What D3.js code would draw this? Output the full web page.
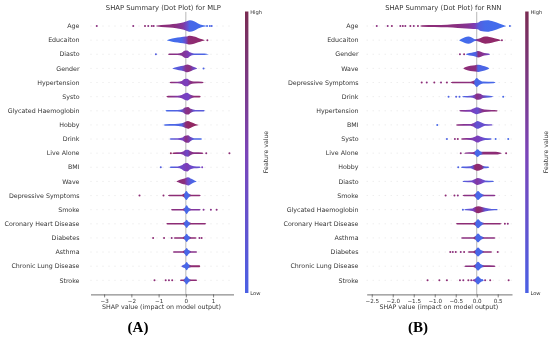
<!DOCTYPE html>
<html>
<head>
<meta charset="utf-8">
<script src="https://cdn.jsdelivr.net/npm/d3@7.9.0/dist/d3.min.js"></script>
<style>
  body { margin: 0; background: #fff; }
  svg { will-change: transform; }
  text { font-family: "DejaVu Sans", sans-serif; }
</style>
</head>
<body>
<svg id="chart" width="550" height="338"></svg>
<script>
// feature order, top to bottom
const mlpFeatures = ["Age", "Educaiton", "Diasto", "Gender", "Hypertension", "Systo",
  "Glycated Haemoglobin", "Hobby", "Drink", "Live Alone", "BMI", "Wave",
  "Depressive Symptoms", "Smoke", "Coronary Heart Disease", "Diabetes", "Asthma",
  "Chronic Lung Disease", "Stroke"];
const rnnFeatures = ["Age", "Educaiton", "Gender", "Wave", "Depressive Symptoms", "Drink",
  "Hypertension", "BMI", "Systo", "Live Alone", "Hobby", "Diasto", "Smoke",
  "Glycated Haemoglobin", "Coronary Heart Disease", "Asthma", "Diabetes",
  "Chronic Lung Disease", "Stroke"];

// swarm density along the SHAP axis: [shap, density]
const mlpShape = [
  [[-1.1,0],[-1.05,0.8],[-0.9,1.5],[-0.6,2.5],[-0.35,3.5],[-0.15,5],[0,7],[0.15,9],[0.3,7.5],[0.45,4],[0.6,1.5],[0.7,0.8],[0.78,0]],
  [[-0.7,0],[-0.6,1.5],[-0.4,3.5],[-0.2,4.5],[0,5.5],[0.15,7],[0.3,5.5],[0.45,3.5],[0.6,1.5],[0.7,0]],
  [[-0.66,0],[-0.6,1.1],[-0.3,1.2],[-0.15,2.5],[-0.05,5.5],[0.05,6],[0.15,3],[0.3,1.2],[0.6,1.1],[0.75,0.8],[0.85,0]],
  [[-0.5,0],[-0.4,1.5],[-0.25,3],[-0.1,4],[0.05,6],[0.15,5],[0.25,3],[0.35,1.2],[0.42,0]],
  [[-0.6,0],[-0.55,1.2],[-0.3,1.3],[-0.15,2.5],[-0.05,5.5],[0.05,6],[0.15,3],[0.3,1.5],[0.6,1.2],[0.66,0]],
  [[-0.72,0],[-0.65,1.2],[-0.3,1.3],[-0.15,2.5],[-0.05,5],[0.05,6],[0.15,3.5],[0.3,1.5],[0.5,1.2],[0.55,0]],
  [[-0.75,0],[-0.7,1.2],[-0.3,1.3],[-0.12,2.5],[-0.03,5],[0.08,6],[0.18,3],[0.35,1.2],[0.65,1.1],[0.7,0]],
  [[-0.82,0],[-0.75,1.2],[-0.4,1.5],[-0.15,2.5],[-0.03,4.5],[0.08,6],[0.2,4],[0.35,1.5],[0.47,0]],
  [[-0.6,0],[-0.55,1.2],[-0.3,1.2],[-0.12,2.5],[-0.03,5],[0.08,6],[0.18,3],[0.3,1.3],[0.55,1.1],[0.6,0]],
  [[-0.5,0],[-0.45,1.2],[-0.2,1.5],[-0.1,2.5],[-0.02,5],[0.08,5.5],[0.18,3],[0.3,1.5],[0.6,1.2],[0.65,0]],
  [[-0.6,0],[-0.55,1.1],[-0.3,1.3],[-0.15,3],[-0.05,6],[0.05,6.5],[0.15,3.5],[0.3,1.5],[0.5,1.1],[0.55,0]],
  [[-0.35,0],[-0.28,1.5],[-0.15,3.5],[-0.02,5],[0.08,6.5],[0.2,4],[0.32,1.5],[0.4,0]],
  [[-0.66,0],[-0.6,1.2],[-0.15,1.2],[-0.06,3],[0.02,7],[0.1,3],[0.2,1.2],[0.5,1.2],[0.55,0]],
  [[-0.55,0],[-0.5,1.2],[-0.12,1.2],[-0.04,3],[0.03,7],[0.1,3],[0.2,1.2],[0.5,1.2],[0.55,0]],
  [[-0.72,0],[-0.68,1.2],[-0.12,1.2],[-0.04,3],[0.03,6.5],[0.1,3],[0.2,1.2],[0.7,1.2],[0.75,0]],
  [[-0.45,0],[-0.4,1.2],[-0.12,1.2],[-0.04,3],[0.03,6.5],[0.1,3],[0.2,1.2],[0.35,1.2],[0.4,0]],
  [[-0.48,0],[-0.44,1.2],[-0.12,1.2],[-0.04,3],[0.03,6.5],[0.1,3],[0.2,1.2],[0.38,1.2],[0.42,0]],
  [[-0.17,0],[-0.12,1.5],[-0.04,3],[0.03,6.5],[0.1,3],[0.2,1.6],[0.5,1.6],[0.53,0]],
  [[-0.22,0],[-0.18,1.2],[-0.1,1.2],[-0.04,3],[0.03,6.5],[0.1,3],[0.2,1.2],[0.38,1.2],[0.42,0]]
];
// feature value (0 low .. 1 high) along the SHAP axis: [shap, value]
const mlpFv = [
  [[-1.1,0.85],[-0.4,0.8],[-0.1,0.65],[0.05,0.35],[0.15,0.1],[0.8,0.05]],
  [[-0.6,0.05],[-0.15,0.1],[0.0,0.4],[0.1,0.85],[0.7,0.9]],
  [[-0.6,0.8],[-0.1,0.7],[0.1,0.55],[0.3,0.2],[0.8,0.1]],
  [[-0.4,0.2],[-0.15,0.3],[0,0.75],[0.15,0.8],[0.3,0.4]],
  [[-0.55,0.85],[-0.1,0.55],[0.05,0.5],[0.2,0.8],[0.65,0.85]],
  [[-0.65,0.85],[-0.1,0.5],[0.1,0.45],[0.3,0.85],[0.55,0.9]],
  [[-0.7,0.1],[-0.2,0.2],[0,0.75],[0.12,0.8],[0.3,0.3],[0.7,0.2]],
  [[-0.75,0.1],[-0.15,0.15],[0,0.85],[0.15,0.95],[0.45,0.9]],
  [[-0.55,0.2],[-0.1,0.5],[0,0.8],[0.12,0.6],[0.3,0.15],[0.6,0.1]],
  [[-0.45,0.9],[-0.1,0.6],[0.05,0.4],[0.2,0.75],[0.65,0.85]],
  [[-0.55,0.15],[-0.1,0.45],[0.05,0.55],[0.2,0.4],[0.55,0.3]],
  [[-0.3,0.85],[-0.05,0.8],[0.05,0.45],[0.2,0.15],[0.4,0.1]],
  [[-0.6,0.85],[-0.08,0.85],[-0.04,0.1],[0.12,0.1],[0.18,0.85],[0.55,0.85]],
  [[-0.5,0.8],[-0.08,0.75],[-0.04,0.1],[0.12,0.1],[0.18,0.65],[0.55,0.65]],
  [[-0.7,0.85],[-0.08,0.85],[-0.04,0.1],[0.12,0.1],[0.18,0.85],[0.75,0.85]],
  [[-0.45,0.85],[-0.08,0.85],[-0.04,0.1],[0.12,0.1],[0.18,0.85],[0.4,0.85]],
  [[-0.48,0.8],[-0.08,0.8],[-0.04,0.1],[0.12,0.1],[0.18,0.75],[0.42,0.75]],
  [[-0.15,0.3],[-0.05,0.1],[0.1,0.1],[0.18,0.85],[0.53,0.9]],
  [[-0.22,0.85],[-0.08,0.85],[-0.04,0.1],[0.12,0.1],[0.18,0.85],[0.42,0.85]]
];
// isolated dots: [shap, value]
const mlpDots = [
  [[-3.27,0.8],[-1.93,0.8],[-1.5,0.85],[-1.38,0.8],[-1.25,0.85],[-1.18,0.8],[0.78,0.1],[0.88,0.1],[0.95,0.15]],
  [[0.79,0.85]],
  [[-1.1,0.2]],
  [[0.65,0.15]],
  [], [], [], [], [],
  [[-0.55,0.95],[0.75,0.8],[1.6,0.85]],
  [[-0.92,0.2],[0.6,0.5]],
  [],
  [[-1.7,0.85],[-0.82,0.85]],
  [[0.65,0.7],[0.92,0.75],[1.13,0.8]],
  [],
  [[-1.2,0.85],[-0.8,0.85],[-0.52,0.8],[0.5,0.8],[0.58,0.85]],
  [], [],
  [[-1.15,0.85],[-0.74,0.85],[-0.62,0.8],[-0.5,0.85]]
];

const rnnShape = [
  [[-1.35,0],[-1.3,1.1],[-1.0,1.5],[-0.7,2],[-0.45,3],[-0.25,4],[-0.08,4.5],[0.02,5],[0.1,8],[0.25,9],[0.4,7],[0.55,3.5],[0.65,1.2],[0.7,0]],
  [[-0.42,0],[-0.36,2],[-0.28,4.5],[-0.2,5.5],[-0.12,4],[-0.04,1.5],[0.04,2],[0.12,4],[0.2,5.5],[0.3,5],[0.42,3],[0.52,1.5],[0.58,0]],
  [[-0.26,0],[-0.22,1.2],[-0.12,2.5],[-0.04,3.5],[0.03,5],[0.1,4],[0.18,2],[0.28,1.2],[0.32,0]],
  [[-0.32,0],[-0.26,2],[-0.15,4],[-0.04,5],[0.04,5.5],[0.14,4],[0.24,2],[0.3,0]],
  [[-0.62,0],[-0.58,1.3],[-0.15,1.3],[-0.06,3],[0.0,7],[0.06,4],[0.15,1.5],[0.4,1.1],[0.45,0]],
  [[-0.35,0],[-0.3,1.1],[-0.15,1.5],[-0.05,3],[0.0,5],[0.08,4.5],[0.15,2],[0.3,1.2],[0.4,0]],
  [[-0.42,0],[-0.38,1.1],[-0.15,1.5],[-0.08,3.5],[0,5.5],[0.08,4],[0.18,2],[0.35,1.3],[0.48,1],[0.5,0]],
  [[-0.5,0],[-0.45,1.2],[-0.15,1.5],[-0.06,3.5],[0.02,6],[0.1,4],[0.2,1.5],[0.35,1.1],[0.38,0]],
  [[-0.38,0],[-0.34,1.2],[-0.15,1.5],[-0.06,3],[0.02,5.5],[0.1,3.5],[0.2,1.5],[0.33,1.1],[0.36,0]],
  [[-0.3,0],[-0.26,1.1],[-0.1,1.3],[-0.04,3],[0.02,6],[0.08,3],[0.15,2],[0.45,2],[0.55,1.2],[0.6,0]],
  [[-0.38,0],[-0.34,1.1],[-0.15,1.5],[-0.07,3.5],[0.02,5.5],[0.1,4],[0.18,1.5],[0.27,1.1],[0.3,0]],
  [[-0.34,0],[-0.3,1.1],[-0.12,1.5],[-0.05,3.5],[0.02,5.5],[0.1,4],[0.2,1.5],[0.38,1.1],[0.41,0]],
  [[-0.34,0],[-0.3,1.2],[-0.08,1.3],[-0.03,3],[0.03,7],[0.1,3],[0.18,1.3],[0.42,1.1],[0.45,0]],
  [[-0.3,0],[-0.26,1.1],[-0.1,2],[-0.04,4],[0.04,5.5],[0.12,4],[0.22,2.5],[0.35,1.2],[0.48,1.1],[0.5,0]],
  [[-0.5,0],[-0.46,1.2],[-0.08,1.2],[-0.03,3],[0.03,7],[0.1,3],[0.18,1.2],[0.55,1.2],[0.6,0]],
  [[-0.38,0],[-0.34,1.2],[-0.08,1.2],[-0.03,3],[0.03,7],[0.1,3],[0.18,1.2],[0.42,1.2],[0.45,0]],
  [[-0.22,0],[-0.18,1.2],[-0.08,1.2],[-0.03,3],[0.03,7],[0.1,3],[0.18,1.2],[0.34,1.2],[0.37,0]],
  [[-0.3,0],[-0.26,1.2],[-0.08,1.2],[-0.03,3],[0.03,7],[0.1,3],[0.18,1.3],[0.42,1.2],[0.45,0]],
  [[-0.12,0],[-0.08,1.2],[-0.03,3],[0.03,6.5],[0.09,3],[0.14,1.2],[0.18,0]]
];
const rnnFv = [
  [[-1.3,0.85],[-0.5,0.8],[-0.2,0.7],[-0.05,0.55],[0.05,0.2],[0.2,0.08],[0.7,0.05]],
  [[-0.4,0.05],[-0.05,0.1],[0.02,0.75],[0.1,0.9],[0.6,0.9]],
  [[-0.22,0.1],[-0.02,0.15],[0.04,0.8],[0.15,0.7],[0.3,0.4]],
  [[-0.3,0.85],[-0.02,0.8],[0.03,0.15],[0.3,0.1]],
  [[-0.6,0.85],[-0.08,0.8],[-0.04,0.1],[0.45,0.1]],
  [[-0.3,0.15],[-0.08,0.4],[0.0,0.8],[0.1,0.65],[0.25,0.2],[0.4,0.15]],
  [[-0.4,0.75],[-0.1,0.5],[0.02,0.35],[0.15,0.75],[0.5,0.85]],
  [[-0.45,0.8],[-0.1,0.6],[0,0.3],[0.15,0.35],[0.38,0.4]],
  [[-0.34,0.8],[-0.08,0.55],[0.05,0.5],[0.2,0.3],[0.36,0.2]],
  [[-0.28,0.75],[-0.06,0.7],[-0.03,0.1],[0.1,0.1],[0.15,0.85],[0.6,0.85]],
  [[-0.34,0.15],[-0.1,0.3],[-0.04,0.9],[0.12,0.85],[0.18,0.2],[0.3,0.15]],
  [[-0.3,0.2],[-0.08,0.45],[0.0,0.65],[0.12,0.45],[0.25,0.2],[0.4,0.15]],
  [[-0.3,0.8],[-0.05,0.75],[-0.02,0.1],[0.12,0.1],[0.18,0.7],[0.45,0.75]],
  [[-0.26,0.2],[-0.08,0.5],[0,0.9],[0.1,0.85],[0.2,0.3],[0.5,0.15]],
  [[-0.5,0.85],[-0.05,0.85],[-0.02,0.1],[0.12,0.1],[0.18,0.85],[0.6,0.85]],
  [[-0.38,0.8],[-0.05,0.8],[-0.02,0.1],[0.12,0.1],[0.18,0.8],[0.45,0.8]],
  [[-0.22,0.85],[-0.05,0.85],[-0.02,0.1],[0.12,0.1],[0.18,0.85],[0.37,0.85]],
  [[-0.3,0.8],[-0.05,0.8],[-0.02,0.1],[0.12,0.1],[0.18,0.8],[0.45,0.8]],
  [[-0.12,0.85],[-0.04,0.5],[-0.02,0.1],[0.18,0.1]]
];
const rnnDots = [
  [[-2.38,0.8],[-2.12,0.8],[-2.02,0.85],[-1.82,0.8],[-1.76,0.85],[-1.7,0.8],[-1.58,0.85],[-1.5,0.8],[-1.4,0.85],[0.79,0.1]],
  [[0.6,0.85]],
  [[-0.4,0.8],[-0.3,0.85]],
  [],
  [[-1.31,0.85],[-1.19,0.8],[-1.01,0.85],[-0.85,0.8],[-0.71,0.85]],
  [[-0.67,0.15],[-0.49,0.2],[-0.41,0.15],[0.63,0.1]],
  [],
  [[-0.94,0.1]],
  [[-0.71,0.15],[-0.52,0.8],[-0.45,0.85],[0.45,0.1],[0.75,0.1]],
  [[-0.38,0.8],[0.7,0.85]],
  [[-0.44,0.15]],
  [],
  [[-0.74,0.85],[-0.53,0.85],[-0.45,0.8]],
  [[-0.33,0.15]],
  [[0.67,0.85],[0.74,0.8]],
  [],
  [[-0.63,0.85],[-0.57,0.8],[-0.5,0.85],[-0.38,0.8],[-0.3,0.85],[0.5,0.85]],
  [],
  [[-1.17,0.85],[-0.89,0.85],[-0.71,0.85],[-0.4,0.85],[-0.32,0.8],[-0.2,0.85],[-0.13,0.8],[0.13,0.15],[0.2,0.8],[0.32,0.85],[0.76,0.85]]
];

const mlpTicks = [-3, -2, -1, 0, 1];
const rnnTicks = [-2.5, -2.0, -1.5, -1.0, -0.5, 0.0, 0.5];

const svg = d3.select("#chart");
const defs = svg.append("defs");

const color = d3.scaleLinear().domain([0, 0.5, 1]).range(["#3b72f2", "#7a3fbf", "#952455"]);
const barColor = d3.scaleLinear().domain([0, 0.5, 1]).range(["#4a60e4", "#7b45b8", "#7a2c52"]);
const dens = d3.scaleLinear().domain([0, 10]).range([0, 6.4]);

const rowTop = 26, rowBottom = 280.3, axisY = 294.4, zeroTop = 11.9;
const ink = "#333333";

const panels = [
  { id: "a", title: "SHAP Summary (Dot Plot) for MLP", features: mlpFeatures, shape: mlpShape, fv: mlpFv, dots: mlpDots,
    domain: [-3.5, 1.75], range: [90.5, 233.5], ticks: mlpTicks, fmt: d3.format("d"),
    labelX: 79.5, titleX: 163.4, cbX: 245, letter: "(A)", letterX: 138 },
  { id: "b", title: "SHAP Summary (Dot Plot) for RNN", features: rnnFeatures, shape: rnnShape, fv: rnnFv, dots: rnnDots,
    domain: [-2.62, 0.84], range: [366.7, 512], ticks: rnnTicks, fmt: d3.format(".1f"),
    labelX: 358.5, titleX: 443.3, cbX: 525.2, letter: "(B)", letterX: 418 }
];

panels.forEach(p => {
  const x = d3.scaleLinear().domain(p.domain).range(p.range);
  const y = d3.scalePoint().domain(p.features).range([rowTop, rowBottom]);
  const g = svg.append("g");

  // dotted row guides
  g.selectAll(".guide").data(p.features).join("line")
    .attr("x1", p.range[0]).attr("x2", p.range[1])
    .attr("y1", d => y(d)).attr("y2", d => y(d))
    .attr("stroke", "#cccccc").attr("stroke-width", 0.5).attr("stroke-dasharray", "1,5");

  // zero line
  g.append("line")
    .attr("x1", x(0)).attr("x2", x(0)).attr("y1", zeroTop).attr("y2", axisY)
    .attr("stroke", "#999").attr("stroke-width", 0.7);

  const area = d3.area()
    .x(d => x(d[0]))
    .y0(d => -dens(d[1]))
    .y1(d => dens(d[1]))
    .curve(d3.curveMonotoneX);

  const marks = g.append("g");
  const labels = g.append("g");

  p.features.forEach((f, i) => {
    const gid = `grad-${p.id}-${i}`;
    const grad = defs.append("linearGradient").attr("id", gid)
      .attr("gradientUnits", "userSpaceOnUse")
      .attr("x1", p.range[0]).attr("x2", p.range[1]).attr("y1", 0).attr("y2", 0);
    const span = p.range[1] - p.range[0];
    grad.selectAll("stop").data(p.fv[i]).join("stop")
      .attr("offset", d => (x(d[0]) - p.range[0]) / span)
      .attr("stop-color", d => color(d[1]));

    const row = marks.append("g").attr("transform", `translate(0,${y(f)})`);
    row.selectAll("circle").data(p.dots[i]).join("circle")
      .attr("cx", d => x(d[0])).attr("cy", 0).attr("r", 1)
      .attr("fill", d => color(d[1]));
    row.append("path").datum(p.shape[i])
      .attr("d", area)
      .attr("fill", `url(#${gid})`);
  });

  labels.selectAll("text").data(p.features).join("text")
    .attr("x", p.labelX).attr("y", d => y(d)).attr("dy", "0.35em")
    .attr("text-anchor", "end").attr("font-size", 6.3)
    .style("fill", ink)
    .text(d => d);

  // x axis
  const ax = g.append("g").attr("transform", `translate(0,${axisY})`)
    .call(d3.axisBottom(x).tickValues(p.ticks).tickFormat(p.fmt).tickSize(3).tickSizeOuter(0).tickPadding(1.5));
  ax.select(".domain").attr("stroke", ink).attr("stroke-width", 0.7);
  ax.selectAll(".tick line").attr("stroke", ink).attr("stroke-width", 0.6);
  ax.selectAll(".tick text").attr("font-size", 5.6).style("fill", ink)
    .attr("font-family", "DejaVu Sans");

  g.append("text")
    .attr("x", (p.range[0] + p.range[1]) / 2 - 0.5).attr("y", 309)
    .attr("text-anchor", "middle").attr("font-size", 6.3).style("fill", ink)
    .text("SHAP value (impact on model output)");

  g.append("text")
    .attr("x", p.titleX).attr("y", 9.6)
    .attr("text-anchor", "middle").attr("font-size", 6.8).style("fill", ink)
    .text(p.title);

  // colour bar
  const cid = `cb-${p.id}`;
  const cb = defs.append("linearGradient").attr("id", cid)
    .attr("x1", 0).attr("x2", 0).attr("y1", 1).attr("y2", 0);
  cb.selectAll("stop").data([0, 0.25, 0.5, 0.75, 1]).join("stop")
    .attr("offset", d => d).attr("stop-color", d => barColor(d));
  g.append("rect")
    .attr("x", p.cbX).attr("y", 11.5).attr("width", 3.4).attr("height", 281.5)
    .attr("fill", `url(#${cid})`);
  g.append("text").attr("x", p.cbX + 5.2).attr("y", 12.4).attr("dy", "0.35em")
    .attr("font-size", 5.2).style("fill", ink).text("High");
  g.append("text").attr("x", p.cbX + 5.2).attr("y", 293).attr("dy", "0.35em")
    .attr("font-size", 5.2).style("fill", ink).text("Low");
  g.append("text")
    .attr("transform", `translate(${p.cbX + 22.5},152) rotate(-90)`)
    .attr("text-anchor", "middle").attr("font-size", 6.2).style("fill", ink)
    .text("Feature value");

  svg.append("text")
    .attr("x", p.letterX).attr("y", 332)
    .attr("text-anchor", "middle")
    .style("font-family", "'Liberation Serif', 'DejaVu Serif', serif")
    .style("font-weight", "bold").style("fill", "#000")
    .attr("font-size", 15)
    .text(p.letter);
});
</script>
</body>
</html>
